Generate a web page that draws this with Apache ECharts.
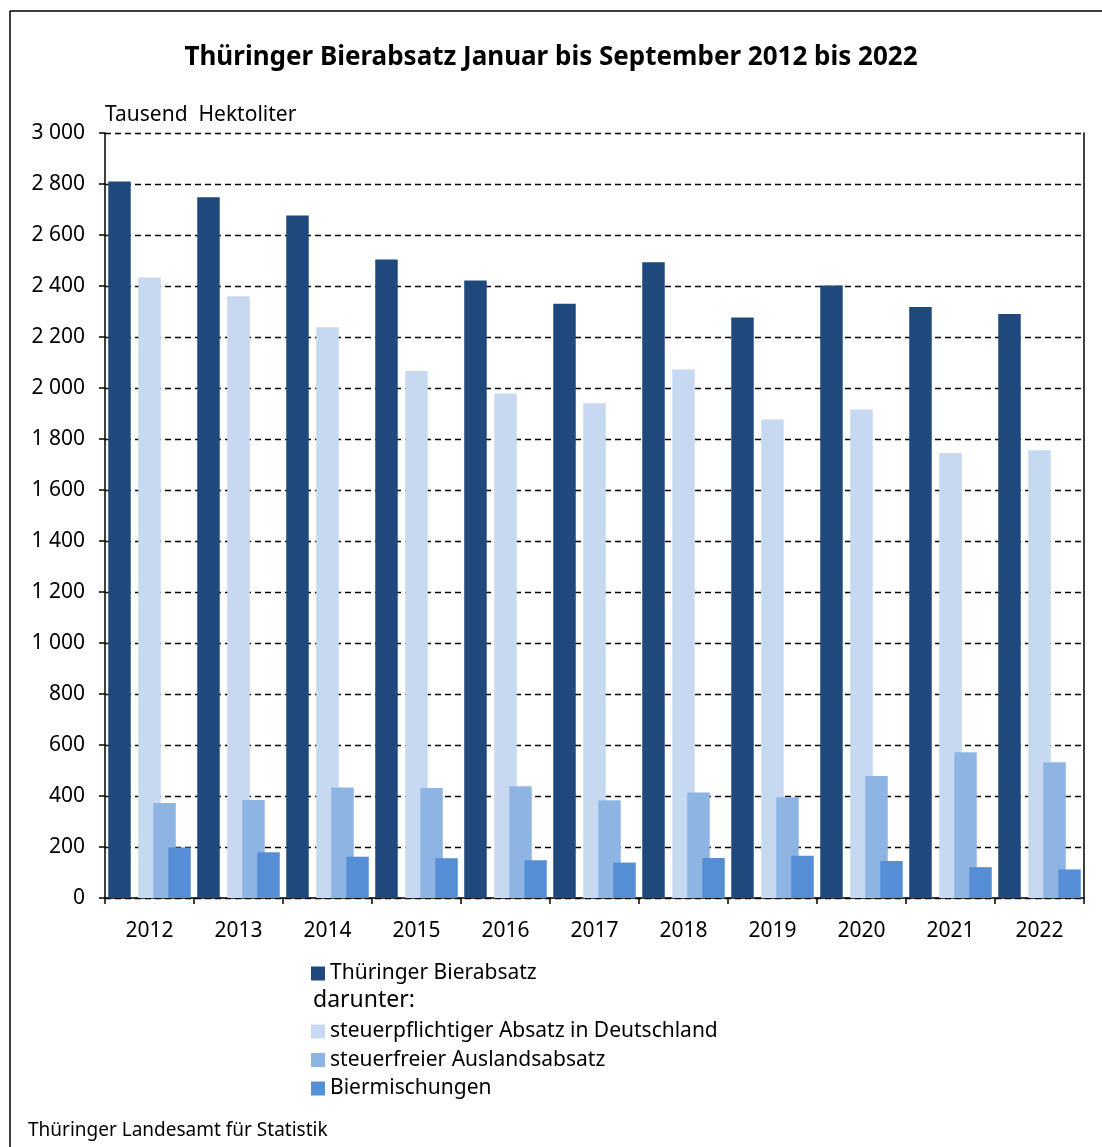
<!DOCTYPE html>
<html>
<head>
<meta charset="utf-8">
<script src="https://cdn.jsdelivr.net/npm/echarts@6/dist/echarts.min.js"></script>
<style>
  html, body { margin: 0; padding: 0; background: #fff; }
  #chart { width: 1102px; height: 1147px; }
</style>
</head>
<body>
<div id="chart"></div>
<script>
const years = ['2012', '2013', '2014', '2015', '2016', '2017', '2018', '2019', '2020', '2021', '2022'];
// Tausend Hektoliter, Januar bis September
const gesamt = [2810, 2748, 2676, 2504, 2422, 2330, 2493, 2276, 2402, 2318, 2290];
const inland = [2433, 2360, 2238, 2067, 1978, 1940, 2073, 1876, 1916, 1745, 1756];
const ausland = [373, 384, 433, 431, 438, 383, 414, 395, 478, 572, 532];
const mischungen = [198, 179, 162, 156, 148, 139, 157, 166, 145, 121, 112];
const yTicks = [0, 200, 400, 600, 800, 1000, 1200, 1400, 1600, 1800, 2000, 2200, 2400, 2600, 2800, 3000];

const font = 'Noto Sans';
const chart = echarts.init(document.getElementById('chart'), null, { renderer: 'canvas' });

function fmt(v) {
	if (v >= 1000) {
		return Math.floor(v / 1000) + ' ' + String(v % 1000).padStart(3, '0');
	}
	return String(v);
}

function bar(name, data, color) {
	return {
		name: name,
		type: 'bar',
		data: data,
		barWidth: 22.5,
		barGap: '-33.3%',
		itemStyle: { color: color },
		animation: false
	};
}

const option = {
	backgroundColor: '#fff',
	textStyle: { fontFamily: font, color: '#000' },
	title: {
		text: 'Thüringer Bierabsatz Januar bis September 2012 bis 2022',
		left: 'center',
		top: 40,
		textStyle: { fontFamily: font, fontWeight: 'bold', fontSize: 26, color: '#000' }
	},
	grid: { left: 105, right: 18, top: 133, bottom: 249, containLabel: false },
	xAxis: {
		type: 'category',
		data: years,
		axisLine: { lineStyle: { color: '#000', width: 1.5 } },
		axisTick: { show: true, length: 6, lineStyle: { color: '#000', width: 1.5 } },
		axisLabel: { fontFamily: font, fontSize: 21, color: '#000', margin: 23 }
	},
	yAxis: [{
		type: 'value',
		min: 0,
		max: 3000,
		interval: 200,
		name: 'Tausend  Hektoliter',
		nameLocation: 'end',
		nameGap: 7,
		nameTextStyle: { fontFamily: font, fontSize: 21, color: '#000', align: 'left', padding: [0, 0, 0, 0] },
		axisLine: { show: true, lineStyle: { color: '#000', width: 1.5 } },
		axisTick: { show: true, inside: false, length: 6, lineStyle: { color: '#000', width: 1.5 } },
		axisLabel: { fontFamily: font, fontSize: 21, color: '#000', margin: 20, formatter: fmt, customValues: yTicks },
		splitLine: { show: true, lineStyle: { color: '#000', type: [6, 4], width: 1.3 } }
	}, {
		type: 'value',
		position: 'right',
		min: 0,
		max: 3000,
		interval: 200,
		axisLine: { show: true, lineStyle: { color: '#000', width: 1.5 } },
		axisTick: { show: false },
		axisLabel: { show: false },
		splitLine: { show: false }
	}],
	legend: [{
		orient: 'vertical',
		left: 306,
		top: 958,
		icon: 'rect',
		itemWidth: 14,
		itemHeight: 14,
		itemGap: 8,
		textStyle: { fontFamily: font, fontSize: 21, color: '#000', lineHeight: 21 },
		data: ['Thüringer Bierabsatz']
	}, {
		orient: 'vertical',
		left: 306,
		top: 1016,
		icon: 'rect',
		itemWidth: 14,
		itemHeight: 14,
		itemGap: 7.5,
		textStyle: { fontFamily: font, fontSize: 21, color: '#000', lineHeight: 21 },
		data: ['steuerpflichtiger Absatz in Deutschland', 'steuerfreier Auslandsabsatz', 'Biermischungen']
	}],
	graphic: [{
		type: 'line',
		shape: { x1: 10, y1: 11, x2: 1102, y2: 11 },
		style: { stroke: '#000', lineWidth: 1.5 }
	}, {
		type: 'line',
		shape: { x1: 10, y1: 11, x2: 10, y2: 1147 },
		style: { stroke: '#000', lineWidth: 1.5 }
	}, {
		type: 'text',
		left: 313,
		top: 989,
		style: { text: 'darunter:', font: '23px "Noto Sans"', fill: '#000' }
	}, {
		type: 'text',
		left: 28,
		top: 1121,
		style: { text: 'Thüringer Landesamt für Statistik', font: '19px "Noto Sans"', fill: '#000' }
	}],
	series: [
		bar('Thüringer Bierabsatz', gesamt, '#1f497d'),
		bar('', years.map(() => null), 'transparent'),
		bar('steuerpflichtiger Absatz in Deutschland', inland, '#c6d9f1'),
		bar('steuerfreier Auslandsabsatz', ausland, '#8eb4e3'),
		bar('Biermischungen', mischungen, '#558ed5')
	]
};

chart.setOption(option);
</script>
</body>
</html>
